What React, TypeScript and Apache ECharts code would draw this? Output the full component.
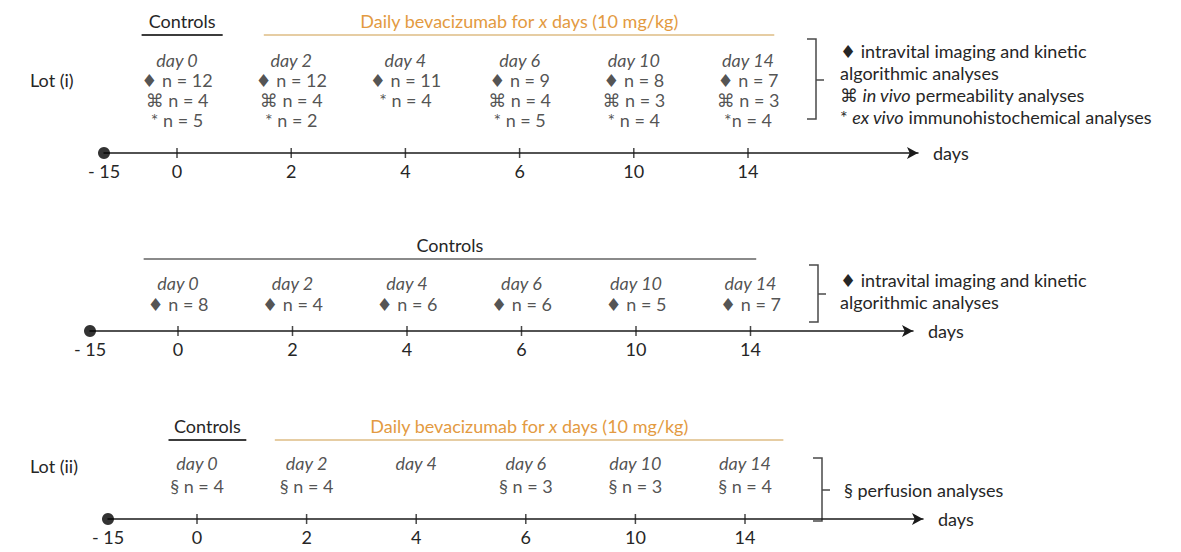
import React, { useEffect, useRef } from 'react';
import * as echarts from 'echarts';

// ---------- data ----------
const START_DAY = -15;
const DAY_TICKS = [0, 2, 4, 6, 10, 14];
const LOT1_INTRAVITAL = [12, 12, 11, 9, 8, 7];
const LOT1_PERMEABILITY = [4, 4, null, 4, 3, 3];
const LOT1_IMMUNO = [5, 2, 4, 5, 4, 4];
const CTRL_INTRAVITAL = [8, 4, 6, 6, 5, 7];
const LOT2_PERFUSION = [4, 4, null, 3, 3, 4];

const TREAT_TEXT = 'Daily bevacizumab for {x|x} days (10 mg/kg)';
// treatment phases, in day-slot units along each timeline
const LOT1_PHASES = [
  { name: 'Controls', from: -0.31, to: 0.4, kind: 'ctrl' },
  { name: TREAT_TEXT, from: 0.76, to: 5.23, kind: 'treat' },
];
const CTRL_PHASES = [{ name: 'Controls', from: -0.3, to: 5.05, kind: 'ctrlLight' }];
const LOT2_PHASES = [
  { name: 'Controls', from: -0.26, to: 0.45, kind: 'ctrl' },
  { name: TREAT_TEXT, from: 0.71, to: 5.35, kind: 'treat' },
];

// ---------- style ----------
const FONT = 'Lato, "Noto Sans", "DejaVu Sans", sans-serif';
const TEXT = '#262626';
const AXIS = '#1a1a1a';
const ORANGE_TEXT = '#E39A41';
const PHASE_COLORS: Record<string, string> = {
  ctrl: '#3c3c3c',
  ctrlLight: '#8a8a8a',
  treat: '#E6CDA3',
};
const FS = 18;

type Row = { prefix: (i: number) => string; values: (number | null)[] };

const PANELS = [
  {
    left: 104, end: 918, axisY: 153, top: 35, x0: 177, unit: 114.2, colTop: 50, lineH: 20, nameGap: 15,
    phases: LOT1_PHASES,
    rows: [
      { prefix: () => '♦ ', values: LOT1_INTRAVITAL },
      { prefix: () => '⌘ ', values: LOT1_PERMEABILITY },
      { prefix: (i: number) => (i === 5 ? '*' : '* '), values: LOT1_IMMUNO },
    ] as Row[],
  },
  {
    left: 90, end: 913, axisY: 331, top: 259, x0: 178, unit: 114.5, colTop: 272, lineH: 21, nameGap: 15,
    phases: CTRL_PHASES,
    rows: [{ prefix: () => '♦ ', values: CTRL_INTRAVITAL }] as Row[],
  },
  {
    left: 108, end: 923, axisY: 519, top: 440, x0: 197, unit: 109.6, colTop: 451, lineH: 23, nameGap: 15,
    phases: LOT2_PHASES,
    rows: [{ prefix: () => '§ ', values: LOT2_PERFUSION }] as Row[],
  },
];

function buildOption() {
  const grid: any[] = [];
  const xAxis: any[] = [];
  const yAxis: any[] = [];
  const series: any[] = [];

  PANELS.forEach((p, k) => {
    const min = (p.left - p.x0) / p.unit;
    const max = (p.end - p.x0) / p.unit;
    const H = p.axisY - p.top;
    grid.push({ left: p.left, top: p.top, width: p.end - p.left, height: H });
    xAxis.push({
      gridIndex: k,
      type: 'value',
      min,
      max,
      splitLine: { show: false },
      axisTick: { show: false },
      axisLine: {
        show: true,
        lineStyle: { color: AXIS, width: 1.5 },
        symbol: ['none', 'arrow'],
        symbolSize: [9, 11],
      },
      axisLabel: {
        customValues: [min, ...DAY_TICKS.map((_, i) => i)],
        formatter: (v: number) =>
          Math.abs(v - min) < 1e-6 ? '- ' + Math.abs(START_DAY) : String(DAY_TICKS[Math.round(v)]),
        fontSize: FS,
        fontFamily: FONT,
        color: TEXT,
        margin: 9,
      },
      name: 'days',
      nameLocation: 'end',
      nameGap: p.nameGap,
      nameTextStyle: { fontSize: FS, fontFamily: FONT, color: TEXT, verticalAlign: 'middle', padding: [0, 0, 4, 0] },
    });
    yAxis.push({ gridIndex: k, type: 'value', min: 0, max: H, show: false });

    // tick marks crossing the axis + phase bars
    series.push({
      type: 'scatter',
      xAxisIndex: k,
      yAxisIndex: k,
      clip: false,
      silent: true,
      symbol: 'rect',
      symbolSize: [1.5, 10],
      itemStyle: { color: AXIS },
      data: DAY_TICKS.map((_, i) => [i, 0]),
      z: 3,
      markLine: {
        silent: true,
        symbol: ['none', 'none'],
        animation: false,
        data: p.phases.map((ph) => [
          {
            coord: [ph.from, H],
            lineStyle: { color: PHASE_COLORS[ph.kind], width: 2, type: 'solid' },
            label: {
              show: true,
              position: 'insideMiddleTop',
              distance: 5,
              formatter: ph.name,
              fontSize: FS,
              fontFamily: FONT,
              color: ph.kind === 'treat' ? ORANGE_TEXT : TEXT,
              rich: {
                x: { fontStyle: 'italic', fontSize: FS, fontFamily: FONT, color: ORANGE_TEXT },
              },
            },
          },
          { coord: [ph.to, H] },
        ]),
      },
    });

    // start dot (day -15)
    series.push({
      type: 'scatter',
      xAxisIndex: k,
      yAxisIndex: k,
      clip: false,
      silent: true,
      symbol: 'circle',
      symbolSize: 12,
      itemStyle: { color: '#000' },
      data: [[min, 0]],
      z: 4,
    });

    // column texts
    const texts = DAY_TICKS.map((d, i) => {
      const lines = [`{d|day ${d}}`];
      p.rows.forEach((r) => {
        const v = r.values[i];
        if (v !== null && v !== undefined) lines.push(`{r|${r.prefix(i)}n = ${v}}`);
      });
      return lines.join('\n');
    });
    series.push({
      type: 'scatter',
      xAxisIndex: k,
      yAxisIndex: k,
      clip: false,
      silent: true,
      symbolSize: 0,
      data: DAY_TICKS.map((_, i) => [i, p.axisY - p.colTop]),
      label: {
        show: true,
        position: 'bottom',
        distance: 0,
        align: 'center',
        formatter: (prm: any) => texts[prm.dataIndex],
        rich: {
          d: { fontStyle: 'italic', fontSize: FS, fontFamily: FONT, color: TEXT, lineHeight: p.lineH },
          r: { fontSize: FS, fontFamily: FONT, color: TEXT, lineHeight: p.lineH },
        },
      },
    });
  });

  const txt = (left: number, top: number, text: string, lineHeight = 22) => ({
    type: 'text',
    left,
    top,
    silent: true,
    style: {
      text,
      font: `${FS}px ${FONT}`,
      fill: TEXT,
      lineHeight,
      rich: {
        i: { fontStyle: 'italic', fontSize: FS, fontFamily: FONT, fill: TEXT, lineHeight },
        n: { fontSize: FS, fontFamily: FONT, fill: TEXT, lineHeight },
      },
    },
  });
  const bracket = (x: number, y1: number, y2: number, mid: number) => [
    {
      type: 'polyline',
      silent: true,
      shape: { points: [[x - 9, y1], [x, y1], [x, y2], [x - 9, y2]] },
      style: { stroke: '#4a4a4a', lineWidth: 1.5, fill: 'none' },
    },
    {
      type: 'line',
      silent: true,
      shape: { x1: x, y1: mid, x2: x + 8, y2: mid },
      style: { stroke: '#4a4a4a', lineWidth: 1.5 },
    },
  ];

  const graphic = [
    txt(30, 69, 'Lot (i)'),
    txt(30, 455, 'Lot (ii)'),
    txt(
      840,
      40,
      '{n|♦ intravital imaging and kinetic}\n{n|algorithmic analyses}\n{n|⌘ }{i|in vivo}{n| permeability analyses}\n{n|* }{i|ex vivo}{n| immunohistochemical analyses}'
    ),
    txt(840, 269, '{n|♦ intravital imaging and kinetic}\n{n|algorithmic analyses}'),
    txt(844, 479, '{n|§ perfusion analyses}'),
    ...bracket(816, 39, 119, 80),
    ...bracket(818, 265, 322, 294),
    ...bracket(822, 458, 521, 490),
  ];

  return {
    animation: false,
    backgroundColor: '#ffffff',
    grid,
    xAxis,
    yAxis,
    series,
    graphic,
  };
}

export default function App() {
  const ref = useRef<HTMLDivElement>(null);
  useEffect(() => {
    if (!ref.current) return;
    const chart = echarts.init(ref.current, null, { renderer: 'svg' });
    chart.setOption(buildOption() as any);
    return () => chart.dispose();
  }, []);
  return <div ref={ref} style={{ width: 1181, height: 552, position: 'absolute', left: 0, top: 0 }} />;
}
